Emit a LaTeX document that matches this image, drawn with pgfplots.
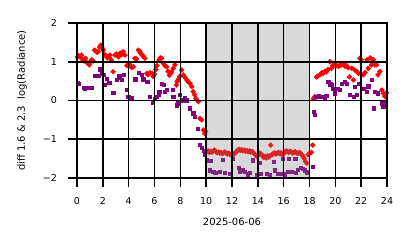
\documentclass[border=0pt]{standalone}
\usepackage{fontspec}
\setmainfont{DejaVu Sans}
\usepackage{pgfplots}
\usetikzlibrary{calc}
\pgfplotsset{compat=1.18}
\definecolor{mplred}{HTML}{FF0000}
\definecolor{mplpurple}{HTML}{800080}
\newcommand\lf{\fontsize{9.5pt}{11pt}\selectfont}
\begin{document}
\begin{tikzpicture}
\begin{axis}[
  name=ax,
  at={(0,0)}, anchor=south west,
  scale only axis, width=310pt, height=155pt,
  xmin=0, xmax=24, ymin=-2, ymax=2,
  xtick={0,2,...,24}, ytick={-2,-1,0,1,2},
  xticklabels={0,2,4,6,8,10,12,14,16,18,20,22,24},
  yticklabels={−2,−1,0,1,2},
  major tick length=0pt,
  axis line style={black, line width=1.6pt},
  grid=major, major grid style={black, line width=1.6pt},
  axis on top, clip mode=individual,
  ticklabel style={font=\lf, inner sep=0pt},
  xticklabel style={anchor=center, yshift=-23pt},
  yticklabel style={anchor=east, xshift=-20pt},
  label style={font=\lf},
  xlabel={2025-06-06},
  ylabel={diff 1.6 \& 2.3\ \ log(Radiance)},
  every axis x label/.style={at={(axis description cs:0.5,-0.284)}, anchor=center},
  every axis y label/.style={at={(axis description cs:-0.177,0.5)}, anchor=center, rotate=90},
]
\addplot[only marks, mark=square*, mark size=1.75pt, color=mplred, mark options={rotate=45, draw=mplred, fill=mplred}] coordinates {
(0.05,1.12)(0.15,1.15)(0.25,1.12)(0.35,1.17)(0.45,1.05)(0.55,1.02)(0.65,1.09)(0.75,1.0)(0.85,0.95)(0.95,0.92)
(1.05,1.0)(1.13,1.05)(1.25,1.02)(1.35,1.3)(1.45,1.28)(1.55,1.24)(1.65,1.26)(1.75,1.38)(1.85,1.43)(1.95,1.35)
(2.04,1.3)(2.15,1.18)(2.25,1.15)(2.35,1.1)(2.45,1.13)(2.55,1.17)(2.65,1.05)(2.8,0.74)(2.94,1.17)(3.05,1.2)
(3.2,1.13)(3.33,1.22)(3.45,1.18)(3.58,1.26)(3.72,1.17)(3.85,0.9)(3.97,0.92)(4.1,0.92)(4.23,0.85)(4.36,0.87)
(4.49,1.09)(4.6,1.07)(4.75,1.3)(4.85,1.27)(4.95,1.22)(5.05,1.17)(5.15,1.13)(5.26,1.09)(5.4,0.7)(5.5,0.66)
(5.65,0.72)(5.8,0.7)(5.9,0.62)(6.0,0.68)(6.1,0.8)(6.2,0.9)(6.35,1.05)(6.45,1.1)(6.55,1.09)(6.68,0.96)
(6.8,0.9)(6.94,0.87)(7.05,0.75)(7.15,0.65)(7.25,0.7)(7.33,0.74)(7.45,0.83)(7.58,0.92)(7.7,0.4)(7.76,0.49)
(7.85,0.55)(7.95,0.62)(8.1,0.79)(8.23,0.66)(8.35,0.6)(8.5,0.53)(8.62,0.48)(8.75,0.44)(8.88,0.36)(9.0,0.23)
(9.1,0.15)(9.2,0.05)(9.39,-0.03)(9.52,-0.46)(9.65,-0.5)(9.78,-0.76)(9.88,-0.85)(9.95,-0.8)
(10.05,-1.33)(10.15,-1.30)(10.25,-1.34)(10.35,-1.31)(10.45,-1.33)(10.55,-1.30)(10.65,-1.28)(10.75,-1.32)(10.85,-1.35)(10.95,-1.33)
(11.05,-1.36)(11.15,-1.34)(11.25,-1.37)(11.35,-1.35)(11.45,-1.33)(11.55,-1.36)(11.65,-1.38)(11.75,-1.36)(11.85,-1.40)(11.95,-1.38)
(12.05,-1.41)(12.15,-1.37)(12.25,-1.35)(12.35,-1.32)(12.45,-1.28)(12.55,-1.26)(12.65,-1.29)(12.75,-1.27)(12.85,-1.30)(12.95,-1.28)
(13.05,-1.31)(13.15,-1.29)(13.25,-1.32)(13.35,-1.30)(13.45,-1.33)(13.55,-1.31)(13.65,-1.35)(13.75,-1.38)(13.85,-1.42)(13.95,-1.45)
(14.05,-1.40)(14.15,-1.36)(14.25,-1.38)(14.35,-1.42)(14.45,-1.47)(14.55,-1.44)(14.65,-1.48)(14.75,-1.43)(14.85,-1.46)(14.95,-1.42)
(15.0,-1.15)(15.1,-1.40)(15.2,-1.37)(15.3,-1.35)(15.4,-1.38)(15.5,-1.36)(15.6,-1.34)(15.7,-1.37)(15.8,-1.35)(15.9,-1.40)
(16.0,-1.38)(16.1,-1.33)(16.2,-1.30)(16.3,-1.32)(16.4,-1.34)(16.5,-1.31)(16.6,-1.33)(16.7,-1.36)(16.8,-1.34)(16.9,-1.32)
(17.0,-1.35)(17.1,-1.37)(17.2,-1.34)(17.3,-1.36)(17.4,-1.40)(17.5,-1.44)(17.6,-1.50)(17.7,-1.58)(17.8,-1.62)(17.9,-1.40)
(18.0,-1.36)(18.15,-1.34)(18.25,-1.15)
(18.3,0.05)(18.4,0.1)(18.5,0.08)(18.55,0.61)(18.65,0.63)(18.8,0.66)(18.95,0.72)(19.06,0.7)(19.2,0.76)(19.3,0.74)
(19.45,0.8)(19.58,1.0)(19.7,0.83)(19.8,0.9)(19.95,0.92)(20.1,0.9)(20.25,0.88)(20.35,0.9)(20.5,0.92)(20.6,0.95)
(20.75,0.88)(20.87,0.9)(21.0,0.85)(21.1,0.61)(21.26,0.83)(21.4,0.53)(21.5,0.79)(21.65,0.75)(21.8,0.7)(21.9,1.09)
(22.0,1.05)(22.16,0.66)(22.3,0.72)(22.45,1.05)(22.55,0.83)(22.7,1.1)(22.8,0.92)(22.94,1.05)(23.07,0.92)(23.2,0.92)
(23.3,0.66)(23.45,0.75)(23.6,0.27)(23.7,0.19)(23.84,0.1)(23.95,0.2)
};
\addplot[only marks, mark=square*, mark size=1.6pt, color=mplpurple, mark options={draw=mplpurple, fill=mplpurple}] coordinates {
(0.05,0.46)(0.15,0.43)(0.5,0.33)(0.6,0.31)(0.75,0.34)(0.9,0.32)(1.05,0.34)(1.13,0.32)(1.4,0.63)(1.55,0.64)
(1.65,0.63)(1.78,0.81)(1.9,0.7)(2.04,0.66)(2.17,0.4)(2.3,0.57)(2.5,0.46)(2.8,0.2)(3.07,0.53)(3.2,0.58)
(3.27,0.63)(3.46,0.53)(3.64,0.66)(3.85,0.27)(3.97,0.1)(4.1,0.07)(4.23,0.08)(4.5,0.55)(4.75,0.72)(5.0,0.66)
(5.13,0.55)(5.4,0.48)(5.5,0.49)(5.65,0.1)(5.86,-0.05)(6.0,0.05)(6.17,0.1)(6.3,0.14)(6.37,0.23)(6.55,0.44)
(6.7,0.4)(6.8,0.23)(6.94,0.27)(7.4,0.27)(7.45,0.1)(7.7,-0.12)(7.8,-0.07)(7.97,0.14)(8.2,0.01)(8.36,0.06)
(8.5,0.01)(8.75,-0.2)(9.0,-0.33)(9.13,-0.42)(9.34,-0.72)(9.5,-1.15)(9.65,-1.22)(9.78,-1.3)(9.9,-1.4)(10.04,-1.53)
(10.1,-1.56)(10.35,-1.56)(10.3,-1.8)(10.55,-1.84)(10.7,-1.86)(11.07,-1.84)(11.3,-1.52)(11.45,-1.86)(11.8,-1.88)(12.07,-1.5)
(12.5,-1.74)(12.6,-1.84)(12.8,-1.8)(13.0,-1.84)(13.2,-1.9)(13.4,-1.87)(13.6,-1.54)(13.9,-1.92)(14.16,-1.6)(14.2,-1.88)
(14.7,-1.88)(14.9,-1.93)(15.2,-1.57)(15.3,-1.8)(15.55,-1.88)(15.85,-1.88)(15.9,-1.5)(16.1,-1.9)(16.3,-1.84)(16.4,-1.5)
(16.6,-1.84)(16.9,-1.5)(16.95,-1.86)(17.1,-1.78)(17.3,-1.74)(17.5,-1.77)(17.6,-1.8)(17.8,-1.85)(18.24,-1.71)
(18.3,-0.29)(18.4,-0.37)(18.45,0.1)(18.55,0.1)(18.7,0.12)(18.85,0.1)(19.06,0.1)(19.2,0.08)(19.3,0.12)(19.45,0.49)
(19.6,0.42)(19.7,0.4)(19.84,0.31)(19.97,0.19)(20.2,0.31)(20.35,0.27)(20.5,0.44)(20.7,0.49)(20.87,0.44)(21.1,0.14)
(21.4,0.1)(21.5,0.36)(21.65,0.14)(21.8,0.44)(22.16,0.31)(22.4,0.23)(22.55,0.37)(22.8,0.53)(22.94,-0.2)(23.07,0.23)
(23.3,0.19)(23.6,-0.07)(23.7,-0.16)(23.84,-0.07)
};
\addplot[draw=none, fill=gray, fill opacity=0.3, forget plot] coordinates {(10,-2) (10,2) (18,2) (18,-2) (10,-2)};
\end{axis}
\fill[black] (ax.south west) ++(-0.8pt,0) rectangle ++(1.6pt,-9pt);
\fill[black] ($(ax.south west)!1/12!(ax.south east)$) ++(-0.8pt,0) rectangle ++(1.6pt,-9pt);
\fill[black] ($(ax.south west)!2/12!(ax.south east)$) ++(-0.8pt,0) rectangle ++(1.6pt,-9pt);
\fill[black] ($(ax.south west)!3/12!(ax.south east)$) ++(-0.8pt,0) rectangle ++(1.6pt,-9pt);
\fill[black] ($(ax.south west)!4/12!(ax.south east)$) ++(-0.8pt,0) rectangle ++(1.6pt,-9pt);
\fill[black] ($(ax.south west)!5/12!(ax.south east)$) ++(-0.8pt,0) rectangle ++(1.6pt,-9pt);
\fill[black] ($(ax.south west)!6/12!(ax.south east)$) ++(-0.8pt,0) rectangle ++(1.6pt,-9pt);
\fill[black] ($(ax.south west)!7/12!(ax.south east)$) ++(-0.8pt,0) rectangle ++(1.6pt,-9pt);
\fill[black] ($(ax.south west)!8/12!(ax.south east)$) ++(-0.8pt,0) rectangle ++(1.6pt,-9pt);
\fill[black] ($(ax.south west)!9/12!(ax.south east)$) ++(-0.8pt,0) rectangle ++(1.6pt,-9pt);
\fill[black] ($(ax.south west)!10/12!(ax.south east)$) ++(-0.8pt,0) rectangle ++(1.6pt,-9pt);
\fill[black] ($(ax.south west)!11/12!(ax.south east)$) ++(-0.8pt,0) rectangle ++(1.6pt,-9pt);
\fill[black] (ax.south east) ++(-0.8pt,0) rectangle ++(1.6pt,-9pt);
\fill[black] (ax.south west) ++(0,-0.8pt) rectangle ++(-9pt,1.6pt);
\fill[black] ($(ax.south west)!0.25!(ax.north west)$) ++(0,-0.8pt) rectangle ++(-9pt,1.6pt);
\fill[black] ($(ax.south west)!0.5!(ax.north west)$) ++(0,-0.8pt) rectangle ++(-9pt,1.6pt);
\fill[black] ($(ax.south west)!0.75!(ax.north west)$) ++(0,-0.8pt) rectangle ++(-9pt,1.6pt);
\fill[black] (ax.north west) ++(0,-0.8pt) rectangle ++(-9pt,1.6pt);
\pgfresetboundingbox
\path (ax.south west) ++(-77pt,-70pt) rectangle ([xshift=27pt,yshift=23pt]ax.north east);
\end{tikzpicture}
\end{document}
